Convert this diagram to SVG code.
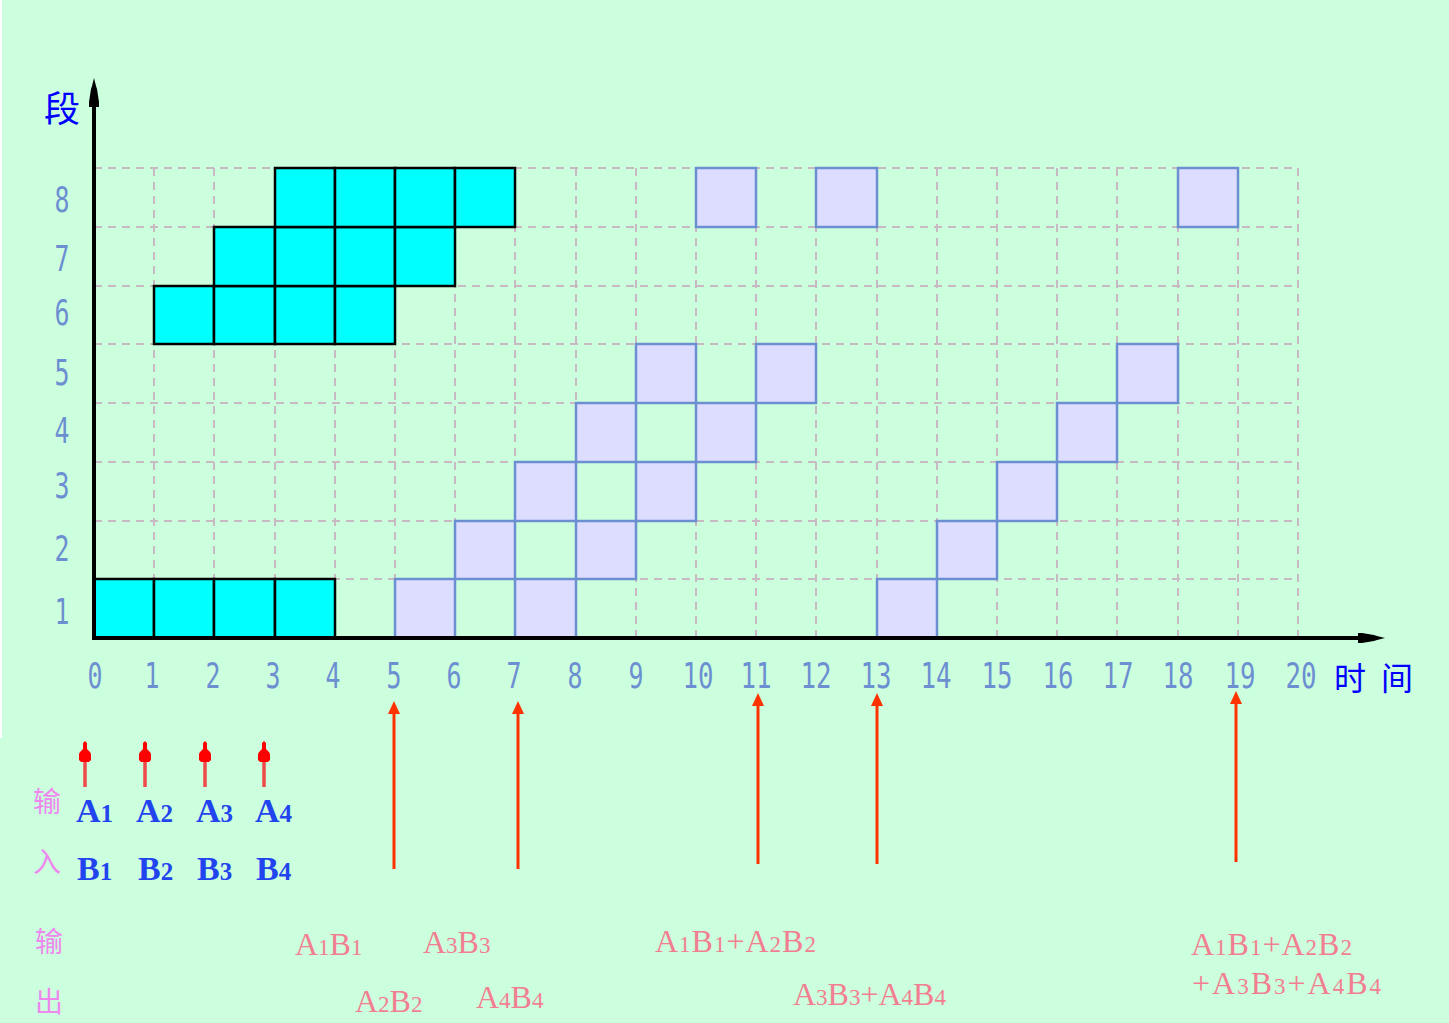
<svg xmlns="http://www.w3.org/2000/svg" width="1449" height="1023" viewBox="0 0 1449 1023">
<style>
.grid{stroke:#C9B9C2;stroke-width:2;stroke-dasharray:8 6;fill:none}
.cy{fill:#00FFFF;stroke:#000;stroke-width:2.5}
.lv{fill:#DDDDFF;stroke:#6C8FD2;stroke-width:2.5}
.num{font-family:"DejaVu Sans Mono","Liberation Mono",monospace;font-size:36px;fill:#6C8FD2;text-anchor:middle}
.cjkb{font-family:"Noto Sans CJK SC",sans-serif;fill:#0000FF}
.cjkp{font-family:"Noto Sans CJK SC",sans-serif;fill:#EE88EE;font-size:28px}
.inp{font-family:"Liberation Serif",serif;font-weight:bold;fill:#2244EE;font-size:34px}
.inp .sub{font-size:25px}
.out{font-family:"Liberation Serif",serif;fill:#F27E92;font-size:32px}
.out .sub{font-size:23px}
.ls1{letter-spacing:1px}
.ls2{letter-spacing:2px}
.red{stroke:#FF3300;stroke-width:3;fill:none}
.redh{fill:#FF3300}
.sred{stroke:#EE4A4A;stroke-width:3.5;fill:none}
.sredh{fill:#FF0000}
</style>
<rect x="0" y="0" width="1449" height="1023" fill="#CCFFDD"/>
<rect x="0" y="0" width="2" height="738" fill="#FFFFFF"/>

<g id="grid">
<path class="grid" d="M94 579H1298M94 521H1298M94 462H1298M94 403H1298M94 344H1298M94 286H1298M94 227H1298M94 168H1298"/>
<path class="grid" d="M154 168V638M214 168V638M275 168V638M335 168V638M395 168V638M455 168V638M515 168V638M576 168V638M636 168V638M696 168V638M756 168V638M816 168V638M877 168V638M937 168V638M997 168V638M1057 168V638M1117 168V638M1178 168V638M1238 168V638M1298 168V638"/>
</g>

<g id="input-blocks">
<rect class="cy" x="94" y="579" width="60" height="59"/>
<rect class="cy" x="154" y="579" width="60" height="59"/>
<rect class="cy" x="214" y="579" width="61" height="59"/>
<rect class="cy" x="275" y="579" width="60" height="59"/>
<rect class="cy" x="154" y="286" width="60" height="58"/>
<rect class="cy" x="214" y="286" width="61" height="58"/>
<rect class="cy" x="275" y="286" width="60" height="58"/>
<rect class="cy" x="335" y="286" width="60" height="58"/>
<rect class="cy" x="214" y="227" width="61" height="59"/>
<rect class="cy" x="275" y="227" width="60" height="59"/>
<rect class="cy" x="335" y="227" width="60" height="59"/>
<rect class="cy" x="395" y="227" width="60" height="59"/>
<rect class="cy" x="275" y="168" width="60" height="59"/>
<rect class="cy" x="335" y="168" width="60" height="59"/>
<rect class="cy" x="395" y="168" width="60" height="59"/>
<rect class="cy" x="455" y="168" width="60" height="59"/>
</g>

<g id="pipeline-blocks">
<rect class="lv" x="395" y="579" width="60" height="59"/>
<rect class="lv" x="515" y="579" width="61" height="59"/>
<rect class="lv" x="877" y="579" width="60" height="59"/>
<rect class="lv" x="455" y="521" width="60" height="58"/>
<rect class="lv" x="576" y="521" width="60" height="58"/>
<rect class="lv" x="937" y="521" width="60" height="58"/>
<rect class="lv" x="515" y="462" width="61" height="59"/>
<rect class="lv" x="636" y="462" width="60" height="59"/>
<rect class="lv" x="997" y="462" width="60" height="59"/>
<rect class="lv" x="576" y="403" width="60" height="59"/>
<rect class="lv" x="696" y="403" width="60" height="59"/>
<rect class="lv" x="1057" y="403" width="60" height="59"/>
<rect class="lv" x="636" y="344" width="60" height="59"/>
<rect class="lv" x="756" y="344" width="60" height="59"/>
<rect class="lv" x="1117" y="344" width="61" height="59"/>
<rect class="lv" x="696" y="168" width="60" height="59"/>
<rect class="lv" x="816" y="168" width="61" height="59"/>
<rect class="lv" x="1178" y="168" width="60" height="59"/>
</g>

<g id="axes">
<path d="M94 640V104" stroke="#000" stroke-width="4" fill="none"/>
<polygon points="94,78 96,86 97,89 99,102 99,107 89,107 89,102 91,89 92,86" fill="#000"/>
<path d="M92 638H1362" stroke="#000" stroke-width="4" fill="none"/>
<polygon points="1385,638 1377,640 1374,641 1362,643 1358,643 1358,633 1362,633 1374,635 1377,636" fill="#000"/>
</g>

<g id="y-labels">
<text class="cjkb" x="62" y="122" font-size="36" text-anchor="middle">段</text>
<text class="num" x="62" y="212" textLength="15" lengthAdjust="spacingAndGlyphs">8</text>
<text class="num" x="62" y="271" textLength="15" lengthAdjust="spacingAndGlyphs">7</text>
<text class="num" x="62" y="325" textLength="15" lengthAdjust="spacingAndGlyphs">6</text>
<text class="num" x="62" y="385" textLength="15" lengthAdjust="spacingAndGlyphs">5</text>
<text class="num" x="62" y="443" textLength="15" lengthAdjust="spacingAndGlyphs">4</text>
<text class="num" x="62" y="498" textLength="15" lengthAdjust="spacingAndGlyphs">3</text>
<text class="num" x="62" y="561" textLength="15" lengthAdjust="spacingAndGlyphs">2</text>
<text class="num" x="62" y="624" textLength="15" lengthAdjust="spacingAndGlyphs">1</text>
</g>

<g id="x-labels">
<text class="num" x="95" y="688" textLength="15" lengthAdjust="spacingAndGlyphs">0</text>
<text class="num" x="152" y="688" textLength="15" lengthAdjust="spacingAndGlyphs">1</text>
<text class="num" x="213" y="688" textLength="15" lengthAdjust="spacingAndGlyphs">2</text>
<text class="num" x="273" y="688" textLength="15" lengthAdjust="spacingAndGlyphs">3</text>
<text class="num" x="333" y="688" textLength="15" lengthAdjust="spacingAndGlyphs">4</text>
<text class="num" x="394" y="688" textLength="15" lengthAdjust="spacingAndGlyphs">5</text>
<text class="num" x="454" y="688" textLength="15" lengthAdjust="spacingAndGlyphs">6</text>
<text class="num" x="514" y="688" textLength="15" lengthAdjust="spacingAndGlyphs">7</text>
<text class="num" x="575" y="688" textLength="15" lengthAdjust="spacingAndGlyphs">8</text>
<text class="num" x="636" y="688" textLength="15" lengthAdjust="spacingAndGlyphs">9</text>
<text class="num" x="698" y="688" textLength="31" lengthAdjust="spacingAndGlyphs">10</text>
<text class="num" x="756" y="688" textLength="31" lengthAdjust="spacingAndGlyphs">11</text>
<text class="num" x="816" y="688" textLength="31" lengthAdjust="spacingAndGlyphs">12</text>
<text class="num" x="876" y="688" textLength="31" lengthAdjust="spacingAndGlyphs">13</text>
<text class="num" x="936" y="688" textLength="31" lengthAdjust="spacingAndGlyphs">14</text>
<text class="num" x="997" y="688" textLength="31" lengthAdjust="spacingAndGlyphs">15</text>
<text class="num" x="1058" y="688" textLength="31" lengthAdjust="spacingAndGlyphs">16</text>
<text class="num" x="1118" y="688" textLength="31" lengthAdjust="spacingAndGlyphs">17</text>
<text class="num" x="1178" y="688" textLength="31" lengthAdjust="spacingAndGlyphs">18</text>
<text class="num" x="1240" y="688" textLength="31" lengthAdjust="spacingAndGlyphs">19</text>
<text class="num" x="1301" y="688" textLength="31" lengthAdjust="spacingAndGlyphs">20</text>
<text class="cjkb" x="1350" y="690" font-size="32" text-anchor="middle">时</text>
<text class="cjkb" x="1397" y="690" font-size="32" text-anchor="middle">间</text>
</g>

<g id="connectors">
<path class="red" d="M394 869V712M518 869V712M758 864V704M877 864V704M1236 862V702"/>
<polygon class="redh" points="394,701 388,714 400,714"/>
<polygon class="redh" points="518,701 512,714 524,714"/>
<polygon class="redh" points="758,693 752,706 764,706"/>
<polygon class="redh" points="877,693 871,706 883,706"/>
<polygon class="redh" points="1236,691 1230,704 1242,704"/>
<path class="sred" d="M85 787V760M145 787V760M205 787V760M264 787V760"/>
<path class="sredh" d="M85 741l2 2v6l3 3l1 2v6l-2 2h-8l-2 -2v-6l1 -2l3 -3v-6z"/>
<path class="sredh" d="M145 741l2 2v6l3 3l1 2v6l-2 2h-8l-2 -2v-6l1 -2l3 -3v-6z"/>
<path class="sredh" d="M205 741l2 2v6l3 3l1 2v6l-2 2h-8l-2 -2v-6l1 -2l3 -3v-6z"/>
<path class="sredh" d="M264 741l2 2v6l3 3l1 2v6l-2 2h-8l-2 -2v-6l1 -2l3 -3v-6z"/>
</g>

<g id="inputs">
<text class="cjkp" x="33" y="812">输</text>
<text class="cjkp" x="33" y="872">入</text>
<text class="inp" x="76" y="822">A<tspan class="sub">1</tspan></text>
<text class="inp" x="136" y="822">A<tspan class="sub">2</tspan></text>
<text class="inp" x="196" y="822">A<tspan class="sub">3</tspan></text>
<text class="inp" x="255" y="822">A<tspan class="sub">4</tspan></text>
<text class="inp" x="77" y="880">B<tspan class="sub">1</tspan></text>
<text class="inp" x="138" y="880">B<tspan class="sub">2</tspan></text>
<text class="inp" x="197" y="880">B<tspan class="sub">3</tspan></text>
<text class="inp" x="256" y="880">B<tspan class="sub">4</tspan></text>
</g>

<g id="outputs">
<text class="cjkp" x="35" y="952">输</text>
<text class="cjkp" x="35" y="1012">出</text>
<text class="out" x="295" y="955">A<tspan class="sub">1</tspan>B<tspan class="sub">1</tspan></text>
<text class="out" x="423" y="953">A<tspan class="sub">3</tspan>B<tspan class="sub">3</tspan></text>
<text class="out" x="355" y="1012">A<tspan class="sub">2</tspan>B<tspan class="sub">2</tspan></text>
<text class="out" x="476" y="1008">A<tspan class="sub">4</tspan>B<tspan class="sub">4</tspan></text>
<text class="out ls1" x="655" y="952">A<tspan class="sub">1</tspan>B<tspan class="sub">1</tspan>+A<tspan class="sub">2</tspan>B<tspan class="sub">2</tspan></text>
<text class="out" x="793" y="1005">A<tspan class="sub">3</tspan>B<tspan class="sub">3</tspan>+A<tspan class="sub">4</tspan>B<tspan class="sub">4</tspan></text>
<text class="out ls1" x="1191" y="955">A<tspan class="sub">1</tspan>B<tspan class="sub">1</tspan>+A<tspan class="sub">2</tspan>B<tspan class="sub">2</tspan></text>
<text class="out ls2" x="1192" y="994">+A<tspan class="sub">3</tspan>B<tspan class="sub">3</tspan>+A<tspan class="sub">4</tspan>B<tspan class="sub">4</tspan></text>
</g>
</svg>
